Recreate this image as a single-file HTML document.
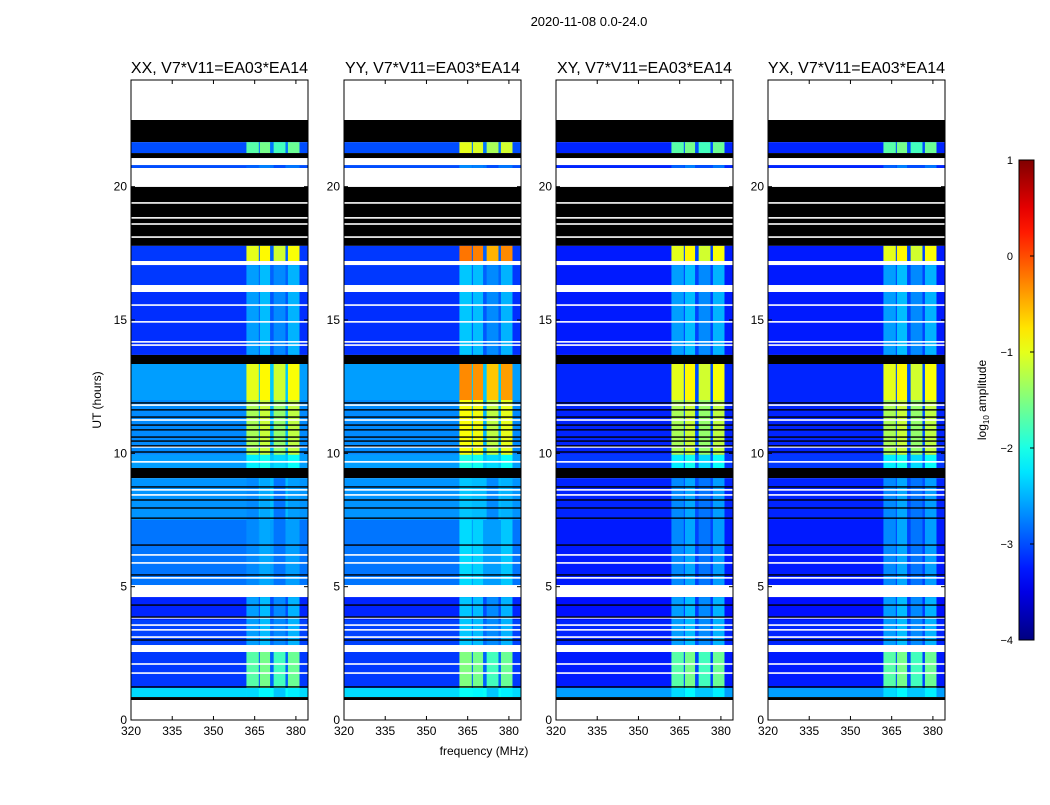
<!DOCTYPE html>
<html><head><meta charset="utf-8">
<style>
body{margin:0;background:#fff;}
svg text{font-family:"Liberation Sans",sans-serif;}
</style></head>
<body>
<svg id="fig" width="1050" height="800" xmlns="http://www.w3.org/2000/svg">
<text x="589" y="26" font-size="13" text-anchor="middle">2020-11-08 0.0-24.0</text>
<text x="484" y="755" font-size="12" text-anchor="middle">frequency (MHz)</text>
<text transform="translate(101,400) rotate(-90)" font-size="12" text-anchor="middle">UT (hours)</text>
<text transform="translate(986,400) rotate(-90)" font-size="12" text-anchor="middle">log<tspan font-size="8" dy="3">10</tspan><tspan dy="-3"> amplitude</tspan></text>
</svg>
<script>
const panelTitles=["XX, V7*V11=EA03*EA14","YY, V7*V11=EA03*EA14","XY, V7*V11=EA03*EA14","YX, V7*V11=EA03*EA14"];
const xTicks=[320,335,350,365,380];
const yTicks=[0,5,10,15,20];
const cbTicks=[1,0,-1,-2,-3,-4];
const segStart=[22.5,21.67,21.26,21.07,20.81,20.7,19.99,17.78,17.21,17.06,16.31,16.05,13.69,13.35,12.0,9.94,9.45,9.07,7.5,5.06,4.61,3.75,2.81,2.55,1.2,0.86,0.75,0];
const segEnd  =[24,22.5,21.67,21.26,21.07,20.81,20.7,19.99,17.78,17.21,17.06,16.31,16.05,13.69,13.35,12.0,9.94,9.45,9.07,7.5,5.06,4.61,3.75,2.81,2.55,1.2,0.86,0.75];
const segKind =["w","k","d","k","w","d","w","k","d","w","d","w","d","k","d","d","d","k","d","d","w","d","d","w","d","d","k","w"];
const bgPar  =[0,0,-3.0,0,0,-3.0,0,0,-3.1,0,-3.1,0,-3.15,0,-2.6,-2.7,-2.6,0,-2.65,-2.8,0,-3.2,-3.05,0,-3.1,-2.3,0,0];
const bgCross=[0,0,-3.2,0,0,-3.2,0,0,-3.25,0,-3.25,0,-3.25,0,-3.2,-3.2,-3.1,0,-3.2,-3.25,0,-3.3,-3.2,0,-3.25,-2.6,0,0];
const rfiLev =[0,0,-1.7,0,0,-2.9,0,0,-1.0,0,-2.6,0,-2.6,0,-1.0,-1.3,-2.2,0,-2.7,-2.7,0,-2.6,-2.6,0,-1.7,-2.3,0,0];
const rfiYY  =[0,0,-1.2,0,0,-2.9,0,0,-0.4,0,-2.6,0,-2.6,0,-0.5,-1.1,-2.2,0,-2.6,-2.5,0,-2.6,-2.6,0,-1.7,-2.3,0,0];
const rfiLo=[362.0,366.9,371.9,377.1];
const rfiHi=[366.5,370.6,376.2,381.3];
const rfiColOff=[0,0.15,-0.1,0.1];
const whiteLines=[19.39,18.83,18.6,18.11,15.56,14.93,14.18,14.06,11.81,11.25,10.24,9.68,8.63,8.44,6.19,5.89,5.33,3.83,3.56,3.38,3.11,2.1,1.76];
const blackLines=[11.89,11.63,11.36,11.06,10.88,10.61,10.46,10.28,10.05,8.74,8.25,7.95,7.57,6.56,5.44,4.31,3.86,3.0,1.24];

const NS="http://www.w3.org/2000/svg";
const svg=document.getElementById('fig');
const panelX=[131,344,556,768], panelW=177, topY=80, botY=720;
const fMin=320,fMax=384.4,hMax=24;
function jet(v){let t=(v+4)/5;t=Math.max(0,Math.min(1,t));
 const c=x=>Math.round(255*Math.max(0,Math.min(1,1.5-Math.abs(x))));
 return `rgb(${c(4*t-3)},${c(4*t-2)},${c(4*t-1)})`;}
function mk(tag,attrs,parent){const e=document.createElementNS(NS,tag);for(const k in attrs)e.setAttribute(k,attrs[k]);(parent||svg).appendChild(e);return e;}

panelTitles.forEach((title,p)=>{
 const x0=panelX[p];
 const X=f=>x0+(f-fMin)/(fMax-fMin)*panelW;
 const Y=h=>botY-h/hMax*(botY-topY);
 const g=mk('g',{});
 
 
 const cross=p>=2;
 for(let i=0;i<segStart.length;i++){
  const y1=Y(segEnd[i]),y2=Y(segStart[i]);
  if(segKind[i]!=='d'){
   const r=mk('rect',{x:x0,y:y1,width:panelW,height:y2-y1,fill:segKind[i]==='w'?'#fff':'#000'},g);
   
   
   continue;}
  const bg=cross?bgCross[i]:bgPar[i];
  const r=mk('rect',{x:x0,y:y1,width:panelW,height:y2-y1,fill:jet(bg)},g);
  
  
  const gp=mk('rect',{x:X(rfiLo[0]),y:y1,width:X(rfiHi[3])-X(rfiLo[0]),height:y2-y1,fill:jet(bg+0.2)},g);
  
  
  const lev=p===1?rfiYY[i]:rfiLev[i];
  for(let c=0;c<rfiLo.length;c++){
   let v=lev+rfiColOff[c]; if(p===1&&c===0)v+=0.2;
   const cr=mk('rect',{x:X(rfiLo[c]),y:y1,width:X(rfiHi[c])-X(rfiLo[c]),height:y2-y1,fill:jet(v)},g);
   
   
  }
 }
 whiteLines.forEach(h=>{const l=mk('rect',{x:x0,y:Y(h)-0.8,width:panelW,height:1.6,fill:'#fff'},g);
  
  });
 blackLines.forEach(h=>{const l=mk('rect',{x:x0,y:Y(h)-0.7,width:panelW,height:1.4,fill:'#000'},g);
  
  });
 const fr=mk('rect',{x:x0,y:topY,width:panelW,height:botY-topY,fill:'none',stroke:'#000','stroke-width':1});
 
 
 const t=mk('text',{x:x0+panelW/2,y:topY-7,'font-size':16,'text-anchor':'middle'});
 
 
 t.textContent=title;
 xTicks.forEach(f=>{const x=X(f);
  mk('line',{x1:x,x2:x,y1:botY,y2:botY-4,stroke:'#000'});
  mk('line',{x1:x,x2:x,y1:topY,y2:topY+4,stroke:'#000'});
  const tl=mk('text',{x:x,y:botY+15,'font-size':12,'text-anchor':'middle'});
  
  
  tl.textContent=f;});
 yTicks.forEach(h=>{const y=Y(h);
  mk('line',{x1:x0,x2:x0+4,y1:y,y2:y,stroke:'#000'});
  mk('line',{x1:x0+panelW,x2:x0+panelW-4,y1:y,y2:y,stroke:'#000'});
  const tl=mk('text',{x:x0-4,y:y+4,'font-size':12,'text-anchor':'end'});
  
  
  tl.textContent=h;});
});
const cbX=1019,cbW=15,cbT=160,cbB=640;
const defs=mk('defs',{});
const gr=mk('linearGradient',{id:'jetg',x1:0,y1:1,x2:0,y2:0},defs);
for(let i=0;i<=20;i++){mk('stop',{offset:i/20,'stop-color':jet(-4+5*i/20)},gr);}
const cb=mk('rect',{x:cbX,y:cbT,width:cbW,height:cbB-cbT,fill:'url(#jetg)',stroke:'#000'});


cbTicks.forEach(v=>{const y=cbB-(v+4)/5*(cbB-cbT);
 mk('line',{x1:cbX+cbW-4,x2:cbX+cbW,y1:y,y2:y,stroke:'#000'});
 const tl=mk('text',{x:cbX-6,y:y+4,'font-size':11,'text-anchor':'end'});
 
 
 tl.textContent=v<0?'\u2212'+(-v):v;});
</script>
</body></html>
